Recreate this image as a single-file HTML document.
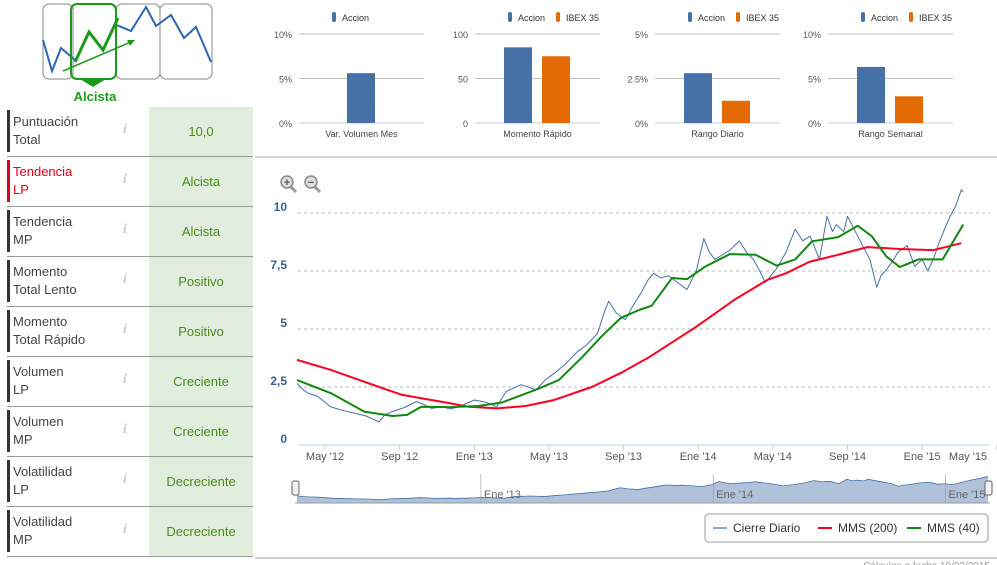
<!DOCTYPE html>
<html><head><meta charset="utf-8"><style>
body{margin:0;width:997px;height:565px;overflow:hidden;background:#fff;font-family:"Liberation Sans",sans-serif;position:relative}
.row{position:absolute;left:7px;width:246px;height:49px;border-bottom:1px solid #999}
.row .bar{position:absolute;left:0;top:3px;width:3px;height:42px;background:#333}
.row .lbl{position:absolute;left:6px;top:6px;font-size:13px;line-height:18px;color:#444}
.row .info{position:absolute;left:116px;top:15px;font-size:14px;color:#ccc;font-style:italic;font-family:"Liberation Serif",serif;font-weight:bold}
.row .val{position:absolute;left:142px;top:0;width:104px;height:49px;background:#e2eedd;color:#4a8a1c;font-size:13px;text-align:center;line-height:49px}
svg text{font-family:"Liberation Sans",sans-serif}
</style></head><body>
<svg style="position:absolute;left:0;top:0" width="255" height="107">
<g fill="#fff" stroke="#888" stroke-width="1">
<rect x="43" y="4" width="30" height="75" rx="6"/><rect x="116" y="4" width="44" height="75" rx="6"/><rect x="160" y="4" width="52" height="75" rx="6"/></g>
<polyline points="43,40 52,71 61,48 75,60" fill="none" stroke="#2e67b1" stroke-width="2"/>
<polyline points="114,24 131,31 146,7 156,26 171,15 184,38 196,27 211,62" fill="none" stroke="#2e67b1" stroke-width="2"/>
<rect x="71" y="4" width="45" height="75" rx="6" fill="none" stroke="#1a9a1a" stroke-width="2"/>
<polygon points="80,79 106,79 93,87" fill="#1a9a1a"/>
<polyline points="75,62 89,32 103,50 118,18" fill="none" stroke="#1a9a1a" stroke-width="3"/>
<line x1="63" y1="71" x2="133" y2="41" stroke="#1a9a1a" stroke-width="1.5"/><polygon points="135,40 127,40 130,46" fill="#1a9a1a"/>
<text x="95" y="101" text-anchor="middle" font-size="13" font-weight="bold" fill="#1a9a1a">Alcista</text>
</svg>
<div class="row" style="top:107px"><div class="bar"></div><div class="lbl">Puntuación<br>Total</div><div class="info">i</div><div class="val">10,0</div></div>
<div class="row" style="top:157px"><div class="bar" style="background:#e0001a"></div><div class="lbl" style="color:#e0001a">Tendencia<br>LP</div><div class="info">i</div><div class="val">Alcista</div></div>
<div class="row" style="top:207px"><div class="bar"></div><div class="lbl">Tendencia<br>MP</div><div class="info">i</div><div class="val">Alcista</div></div>
<div class="row" style="top:257px"><div class="bar"></div><div class="lbl">Momento<br>Total Lento</div><div class="info">i</div><div class="val">Positivo</div></div>
<div class="row" style="top:307px"><div class="bar"></div><div class="lbl">Momento<br>Total Rápido</div><div class="info">i</div><div class="val">Positivo</div></div>
<div class="row" style="top:357px"><div class="bar"></div><div class="lbl">Volumen<br>LP</div><div class="info">i</div><div class="val">Creciente</div></div>
<div class="row" style="top:407px"><div class="bar"></div><div class="lbl">Volumen<br>MP</div><div class="info">i</div><div class="val">Creciente</div></div>
<div class="row" style="top:457px"><div class="bar"></div><div class="lbl">Volatilidad<br>LP</div><div class="info">i</div><div class="val">Decreciente</div></div>
<div class="row" style="top:507px"><div class="bar"></div><div class="lbl">Volatilidad<br>MP</div><div class="info">i</div><div class="val">Decreciente</div></div>

<svg id="minis" style="position:absolute;left:0;top:0" width="997" height="160"></svg>
<svg id="main" style="position:absolute;left:0;top:0" width="997" height="565"></svg>
<script>
const NS='http://www.w3.org/2000/svg';
function mk(p,t,a){const e=document.createElementNS(NS,t);for(const k in a)e.setAttribute(k,a[k]);p.appendChild(e);return e;}
// mini bar charts
const miniTitles=['Var. Volumen Mes','Momento Rápido','Rango Diario','Rango Semanal'];
const miniMax=[10,100,5,10];
const miniTicks=[['0%','5%','10%'],['0','50','100'],['0%','2.5%','5%'],['0%','5%','10%']];
const accionVals=[5.6,85,2.8,6.3];
const ibexVals=[null,75,1.25,3.0];
const miniLeft=[299,475,655,828];
const ms=document.getElementById('minis');
mk(ms,'line',{x1:255,y1:157,x2:997,y2:157,stroke:'#aaa'});
for(let i=0;i<4;i++){
  const g=mk(ms,'g',{});
  
  
  const L=miniLeft[i],W=125,base=123,top=34;
  const y=v=>base-(v/miniMax[i])*(base-top);
  for(let k=0;k<3;k++){const yy=base-k*(base-top)/2;
    mk(g,'line',{x1:L,y1:yy,x2:L+W,y2:yy,stroke:k?'#c0c0c0':'#c0d0e0'});
    const t=mk(g,'text',{x:L-7,y:yy+4,'text-anchor':'end','font-size':9,fill:'#555'});t.textContent=miniTicks[i][k];}
  const two=ibexVals[i]!==null;
  const b1x=two?L+29:L+48;
  const r1=mk(g,'rect',{x:b1x,y:y(accionVals[i]),width:28,height:base-y(accionVals[i]),fill:'#4571a6'});
  
  if(two){const r2=mk(g,'rect',{x:L+67,y:y(ibexVals[i]),width:28,height:base-y(ibexVals[i]),fill:'#e46a06'});
    }
  const t=mk(g,'text',{x:L+W/2,y:137,'text-anchor':'middle','font-size':9,fill:'#444'});t.textContent=miniTitles[i];
  const lg=mk(g,'g',{});
  const lx=L+33;
  mk(lg,'rect',{x:lx,y:12,width:4,height:10,rx:2,fill:'#4571a6'});
  const a=mk(lg,'text',{x:lx+10,y:21,'font-size':9,fill:'#333'});a.textContent='Accion';
  if(two){mk(lg,'rect',{x:lx+48,y:12,width:4,height:10,rx:2,fill:'#e46a06'});
    const b=mk(lg,'text',{x:lx+58,y:21,'font-size':9,fill:'#333'});b.textContent='IBEX 35';}
}
// main chart data: t = months since 1 May 2012
const priceT=[-1.5,-1.2,-0.9,-0.4,0.3,0.9,1.6,2.2,2.9,3.2,3.6,4.2,4.9,5.3,5.7,6.3,6.7,7.2,7.6,8.0,8.6,9.2,9.7,10.1,10.5,10.9,11.3,11.8,12.3,12.9,13.5,14.0,14.6,15.0,15.2,15.6,16.1,16.5,16.9,17.3,17.6,18.0,18.4,18.9,19.4,19.9,20.3,20.6,20.9,21.3,21.7,22.2,22.6,22.96,23.3,23.6,24.2,24.7,25.2,25.6,26.0,26.5,26.9,27.2,27.4,27.8,28.0,28.55,29.0,29.2,29.57,29.8,30.08,30.4,30.7,31.2,31.6,32.0,32.3,32.6,32.9,33.2,33.5,33.8,34.1,34.2];
const priceV=[2.66,2.4,2.23,2.1,1.65,1.5,1.37,1.25,1.0,1.3,1.44,1.6,1.87,1.75,1.58,1.65,1.55,1.65,1.8,1.94,1.85,1.65,2.3,2.45,2.6,2.5,2.37,2.8,3.1,3.5,4.0,4.3,4.8,5.8,6.2,5.7,5.4,6.0,6.5,7.1,7.4,7.2,7.3,7.0,6.7,7.5,8.9,8.3,8.0,8.2,8.4,8.8,8.3,8.0,7.5,7.0,7.6,8.3,9.3,8.8,9.0,8.0,9.86,9.2,9.5,9.2,9.86,9.0,8.3,8.0,6.8,7.3,7.55,7.9,8.3,8.6,7.7,8.0,7.5,8.0,8.7,9.3,9.86,10.3,11.0,10.9];
const smaT=[-1.5,0.3,2.9,4.14,6.69,7.7,9.23,10.76,12.28,14.3,15.84,17.4,19.9,21.94,23.72,24.7,25.97,27.5,29.06,30.8,32.6,34.1];
const smaV=[3.67,3.24,2.5,2.16,1.8,1.65,1.58,1.68,1.94,2.5,3.1,3.8,5.1,6.26,7.12,7.4,7.9,8.2,8.53,8.45,8.4,8.7];
const ma40T=[-1.5,0.33,2.1,3.63,4.4,5.16,6.69,8.21,9.48,11.26,12.53,13.8,14.82,15.84,16.86,17.5,18.6,19.4,20.4,21.7,23.08,24.2,25.2,26.1,27.5,28.55,29.3,30.08,30.8,31.8,33.1,34.2];
const ma40V=[2.8,2.23,1.44,1.25,1.3,1.65,1.63,1.68,1.83,2.37,2.8,3.8,4.68,5.47,5.83,6.0,7.2,7.15,7.7,8.23,8.2,7.73,8.0,8.78,8.96,9.45,9.0,8.13,7.67,8.0,8.0,9.5];
const yTicks=[0,2.5,5,7.5,10];
const yTickLabels=['0','2,5','5','7,5','10'];
const xTickT=[0,4,8,12,16,20,24,28,32,36];
const xTickLabels=["May '12","Sep '12","Ene '13","May '13","Sep '13","Ene '14","May '14","Sep '14","Ene '15","May '15"];
const navTickT=[8,20,32];
const navTickLabels=["Ene '13","Ene '14","Ene '15"];
const X=t=>325+t*18.66;
const Y=v=>445-v*23.2;
const NX=t=>297+(t+1.5)*19.36;
const NY=v=>502-v*2.3;
const m=document.getElementById('main');
// zoom icons
for(const [cx,s,n] of [[287,'+','zoom-in-button'],[311,'−','zoom-out-button']]){
  const g=mk(m,'g',{});
  mk(g,'line',{x1:cx+4,y1:187,x2:cx+9,y2:192,stroke:'#999','stroke-width':3});
  mk(g,'circle',{cx:cx,cy:182,r:6,fill:'#ddd',stroke:'#888','stroke-width':1.5});
  const t=mk(g,'text',{x:cx,y:186,'text-anchor':'middle','font-size':11,'font-weight':'bold',fill:'#555'});t.textContent=s;}
// grid
yTicks.forEach((v,i)=>{
  if(v>0)mk(m,'line',{x1:298,y1:Y(v),x2:990,y2:Y(v),stroke:'#bbb','stroke-dasharray':'3,3'});
  const t=mk(m,'text',{x:287,y:Y(v)-2,'text-anchor':'end','font-size':12,'font-weight':'bold',fill:'#3a5f8f'});t.textContent=yTickLabels[i];
  
});
mk(m,'line',{x1:298,y1:445,x2:990,y2:445,stroke:'#c0d0e0'});
xTickT.forEach((tt,i)=>{
  const x=X(tt);
  mk(m,'line',{x1:x,y1:445,x2:x,y2:450,stroke:'#c0d0e0'});
  const t=mk(m,'text',{x:Math.min(x,968),y:460,'text-anchor':'middle','font-size':11,fill:'#555'});t.textContent=xTickLabels[i];
  
});
function line(T,V,col,w,name){
  const p=mk(m,'polyline',{points:T.map((t,i)=>X(t)+','+Y(V[i])).join(' '),fill:'none',stroke:col,'stroke-width':w,'stroke-linejoin':'round'});
  }
line(priceT,priceV,'#4571a6',1,'series-cierre-diario');
line(smaT,smaV,'#ff0022',2,'series-mms-200');
line(ma40T,ma40V,'#118811',2,'series-mms-40');
// navigator
const nav=mk(m,'g',{});
const ap=priceT.map((t,i)=>NX(t)+','+NY(priceV[i])).join(' ');
const lastX=NX(priceT[priceT.length-1]);
mk(nav,'polygon',{points:NX(priceT[0])+',503 '+ap+' '+lastX+',503',fill:'#b0c2da',stroke:'none'});
mk(nav,'polyline',{points:ap,fill:'none',stroke:'#4571a6','stroke-width':0.8});
mk(nav,'line',{x1:295,y1:503,x2:990,y2:503,stroke:'#999'});
navTickT.forEach((tt,i)=>{const x=NX(tt);mk(nav,'line',{x1:x,y1:474,x2:x,y2:503,stroke:'#999','stroke-width':0.6});
  const t=mk(nav,'text',{x:x+3,y:498,'font-size':11,fill:'#666'});t.textContent=navTickLabels[i];});
for(const hx of [295,988]){const h=mk(nav,'rect',{x:hx-3,y:481,width:7,height:14,rx:2,fill:'#f2f2f2',stroke:'#666'});
  }
// legend
const lg=mk(m,'g',{});
mk(lg,'rect',{x:705,y:514,width:283,height:28,rx:4,fill:'#fff',stroke:'#999'});
const items=[['Cierre Diario','#8aa6cc',713,'legend-entry-cierre'],['MMS (200)','#ff0022',818,'legend-entry-mms200'],['MMS (40)','#118811',907,'legend-entry-mms40']];
for(const [n,c,x,dn] of items){const g=mk(lg,'g',{});
  mk(g,'line',{x1:x,y1:528,x2:x+14,y2:528,stroke:c,'stroke-width':2});
  const t=mk(g,'text',{x:x+20,y:532,'font-size':12,fill:'#333'});t.textContent=n;}
mk(m,'line',{x1:255,y1:558,x2:997,y2:558,stroke:'#999'});
const ft=mk(m,'text',{x:990,y:569,'text-anchor':'end','font-size':10,fill:'#999'});ft.textContent='Cálculos a fecha 10/03/2015';
</script>
</body></html>
